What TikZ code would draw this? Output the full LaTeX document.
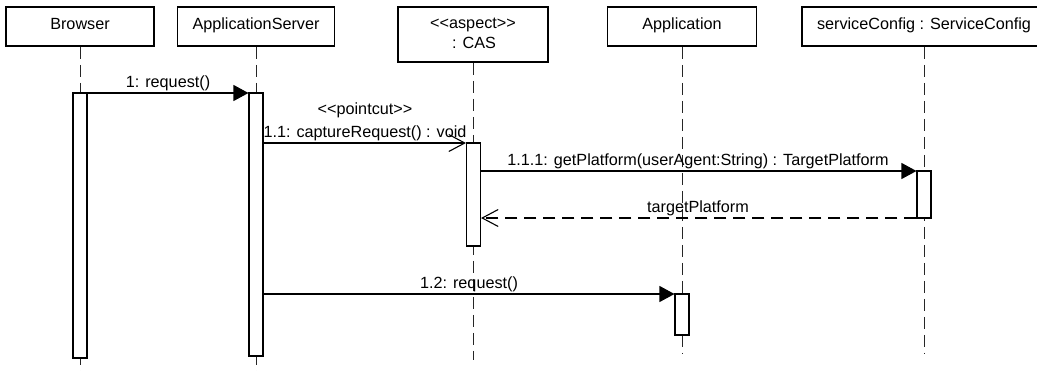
\documentclass[tikz,border=0pt]{standalone}
\usepackage{fontspec}
\setmainfont{Liberation Sans}
\usetikzlibrary{arrows.meta}
\begin{document}
\begin{tikzpicture}[x=1pt,y=-1pt,
  objbox/.style={draw, line width=1.8pt, fill=white, inner sep=0pt, minimum height=39pt},
  lbl/.style={font=\fontsize{16.2}{19}\selectfont, inner sep=0pt, anchor=base},
  lifeline/.style={draw=black!85, line width=1pt, dash pattern=on 12pt off 6pt},
  act/.style={draw, fill=white, line width=1.1pt, minimum width=14pt, inner sep=0pt},
  call/.style={line width=1.1pt, -{Triangle[length=15pt,width=16pt]}},
  async/.style={line width=1.1pt, -{Straight Barb[length=16pt,width=17pt,line width=1.1pt]}},
  reply/.style={line width=1.1pt, dash pattern=on 12pt off 7pt, -{Straight Barb[length=16pt,width=17pt,line width=1.1pt]}}
]
\useasboundingbox (0,0) rectangle (1037,370);
\clip (0,0) rectangle (1037,370);
\fill[white] (0,0) rectangle (1037,370);

% object boxes
\node[objbox, minimum width=148pt] (browser) at (80,26.5) {};
\node[objbox, minimum width=157pt] (appsrv) at (256,26.5) {};
\node[objbox, minimum width=150pt, minimum height=55pt] (cas) at (473,34.5) {};
\node[objbox, minimum width=149pt] (app) at (682,26.5) {};
\node[objbox, minimum width=244pt] (svc) at (924,26.5) {};

\node[lbl] (tbrowser) at (80,29.5) {Browser};
\node[lbl] (tappsrv) at (256,29.5) {ApplicationServer};
\node[lbl] (tcasa) at (473,28.5) {<{}<aspect>{}>};
\node[lbl] (tcasb) at (474,48) {: CAS};
\node[lbl] (tapp) at (682,29.5) {Application};
\node[lbl] (tsvc) at (924,29.5) {serviceConfig : ServiceConfig};

% lifeline ends
\coordinate (ebrowser) at (80,372);
\coordinate (eappsrv) at (256,372);
\coordinate (ecas) at (473,360);
\coordinate (eapp) at (682,353);
\coordinate (esvc) at (924,353);

\draw[lifeline] (browser.south) -- (ebrowser);
\draw[lifeline] (appsrv.south) -- (eappsrv);
\draw[lifeline] (cas.south) -- (ecas);
\draw[lifeline] (app.south) -- (eapp);
\draw[lifeline] (svc.south) -- (esvc);

% activations
\node[act, minimum height=265pt] (bact) at (80,225.5) {};
\node[act, minimum height=263pt] (sact) at (256,224.5) {};
\node[act, minimum height=103pt] (cact) at (473.5,194.5) {};
\node[act, minimum height=47pt] (vact) at (924,194.5) {};
\node[act, minimum height=41pt] (aact) at (682,314.5) {};

% message levels
\coordinate (y1) at (0,93);
\coordinate (y2) at (0,143);
\coordinate (y3) at (0,171);
\coordinate (y4) at (0,218);
\coordinate (y5) at (0,294);

\draw[call] (bact.east |- y1) -- (sact.west |- y1);
\draw[async] (sact.east |- y2) -- (cact.west |- y2);
\draw[call] (cact.east |- y3) -- (vact.west |- y3);
\draw[reply] (vact.west |- y4) -- (cact.east |- y4);
\draw[call] (sact.east |- y5) -- (aact.west |- y5);

% message labels
\node[lbl] (l1) at (168,87) {1: request()};
\node[lbl] (l2a) at (365,114) {<{}<pointcut>{}>};
\node[lbl] (l2b) at (365,137) {1.1: captureRequest() : void};
\node[lbl] (l3) at (698,165) {1.1.1: getPlatform(userAgent:String) : TargetPlatform};
\node[lbl] (l4) at (698,212) {targetPlatform};
\node[lbl] (l5) at (469,288) {1.2: request()};
\end{tikzpicture}
\end{document}
